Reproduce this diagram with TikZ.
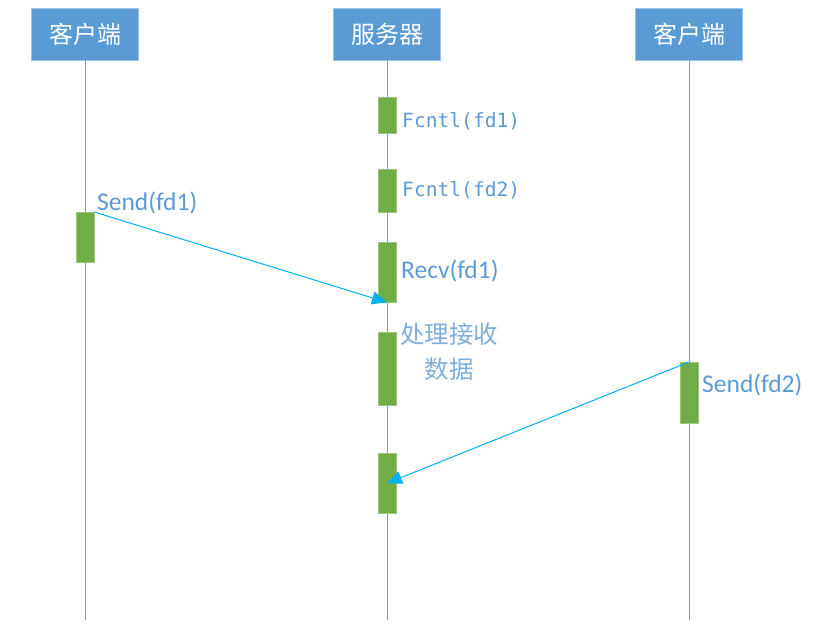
\documentclass[tikz,border=0pt]{standalone}
\usepackage{fontspec}
\setmainfont{Carlito}
\setmonofont{DejaVu Sans Mono}
\newfontfamily\cjk{Noto Sans CJK SC}
\usetikzlibrary{arrows.meta}
\definecolor{boxblue}{HTML}{5B9BD5}
\definecolor{bargreen}{HTML}{70AD47}
\definecolor{msgblue}{HTML}{00B0F0}
\definecolor{lifeblue}{HTML}{6FA0D8}
\tikzset{
    actor/.style={fill=boxblue, draw=boxblue!60!white, minimum width=107pt, minimum height=52pt,
        text=white, font=\cjk\fontsize{24}{26}\selectfont, inner sep=0pt},
    bar/.style={fill=bargreen, draw=bargreen!70!white, minimum width=18pt, inner sep=0pt, anchor=north},
    lbl/.style={text=boxblue, anchor=west, inner sep=0pt, font=\fontsize{25.5}{28}\selectfont},
    msg/.style={msgblue, line width=1pt, -{Triangle[length=15pt,width=13pt]}},
    life/.style={lifeblue, line width=0.8pt}
}
\begin{document}
\begin{tikzpicture}[x=1pt, y=-1pt]
    \useasboundingbox (0, 0) rectangle (832, 641);

    % 1. 三个参与者
    \node[actor] (cliA) at (85, 34) {客户端};
    \node[actor] (srv)  at (387, 34) {服务器};
    \node[actor] (cliB) at (689, 34) {客户端};

    % 2. 生命线
    \coordinate (endA) at (85, 620);
    \coordinate (endS) at (387, 620);
    \coordinate (endB) at (689, 620);
    \draw[life] (cliA.south) -- (endA);
    \draw[life] (srv.south) -- (endS);
    \draw[life] (cliB.south) -- (endB);

    % 3. 服务器上的激活条
    \node[bar, minimum height=36pt] (fcntlA) at (387, 97) {};
    \node[bar, minimum height=43pt] (fcntlB) at (387, 169) {};
    \node[bar, minimum height=60pt] (recvA)  at (387, 242) {};
    \node[bar, minimum height=73pt] (proc)   at (387, 332) {};
    \node[bar, minimum height=60pt] (recvB)  at (387, 453) {};

    % 客户端的激活条
    \node[bar, minimum height=50pt] (sendA) at (85, 212) {};
    \node[bar, minimum height=61pt] (sendB) at (689, 362) {};

    % 4. 标签
    \node[lbl, font=\ttfamily\fontsize{19.6}{22}\selectfont] (tA) at (402, 121) {Fcntl(fd1)};
    \node[lbl, font=\ttfamily\fontsize{19.6}{22}\selectfont] (tB) at (402, 190) {Fcntl(fd2)};
    \node[lbl] (tC) at (97, 203) {Send(fd1)};
    \node[lbl] (tD) at (401, 271) {Recv(fd1)};
    \node[text=boxblue!80!white, align=center, inner sep=0pt, font=\cjk\fontsize{24.5}{35}\selectfont] (tE) at (449, 352) {处理接收\\数据};
    \node[lbl] (tF) at (702, 385) {Send(fd2)};

    % 5. 消息
    \draw[msg] (sendA.north east) -- (recvA.south);
    \draw[msg] (sendB.north) -- (recvB.center);

\end{tikzpicture}
\end{document}
